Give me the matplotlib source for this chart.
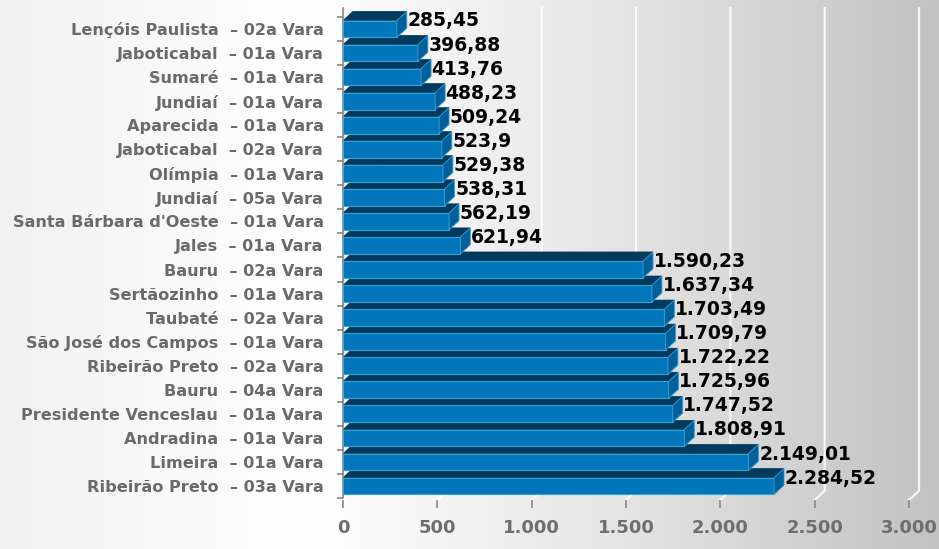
import matplotlib
matplotlib.use("Agg")
import matplotlib.pyplot as plt
from matplotlib.patches import Polygon
import numpy as np

# dados (de baixo para cima no gráfico)
cidades = ["Ribeirão Preto", "Limeira", "Andradina", "Presidente Venceslau", "Bauru",
           "Ribeirão Preto", "São José dos Campos", "Taubaté", "Sertãozinho", "Bauru",
           "Jales", "Santa Bárbara d'Oeste", "Jundiaí", "Olímpia", "Jaboticabal",
           "Aparecida", "Jundiaí", "Sumaré", "Jaboticabal", "Lençóis Paulista"]
varas = ["03a", "01a", "01a", "01a", "04a", "02a", "01a", "02a", "01a", "02a",
         "01a", "01a", "05a", "01a", "02a", "01a", "01a", "01a", "01a", "02a"]
valores = [2284.52, 2149.01, 1808.91, 1747.52, 1725.96, 1722.22, 1709.79, 1703.49,
           1637.34, 1590.23, 621.94, 562.19, 538.31, 529.38, 523.9, 509.24, 488.23,
           413.76, 396.88, 285.45]
xticks = [0, 500, 1000, 1500, 2000, 2500, 3000]

labels = [c + "  – " + v + " Vara" for c, v in zip(cidades, varas)]


def fmt_br(v):
    s = f"{v:,.2f}".rstrip("0").rstrip(".")
    return s.replace(",", "X").replace(".", ",").replace("X", ".")


def fmt_tick(v):
    return f"{v:,.0f}".replace(",", ".")


fig = plt.figure(figsize=(9.39, 5.49), dpi=100)

# fundo em degradê
bg = fig.add_axes([0, 0, 1, 1], zorder=-1)
grad = np.linspace(0, 1, 256).reshape(1, -1)
bg.imshow(grad, aspect="auto", cmap=matplotlib.colors.LinearSegmentedColormap.from_list(
    "bg", ["#f2f2f2", "#ffffff", "#e4e4e4", "#c2c2c2"]), extent=[0, 1, 0, 1])
bg.axis("off")

W, H = 939, 549
ax = fig.add_axes([343 / W, 1 - 500 / H, (920 - 343) / W, (500 - 8) / H])
ax.set_facecolor("none")

xmax = 3000 * 577 / 566
ymin, ymax = -0.58, 19.87
ax.set_xlim(0, xmax)
ax.set_ylim(ymin, ymax)

dx = 10 * 3000 / 566     # profundidade 3D em x
dy = 0.38                # profundidade 3D em y
h = 0.70                 # altura da face frontal

# linhas de grade na parede de fundo
for t in xticks:
    ax.plot([t + dx, t + dx, t], [ymax, ymin + dy, ymin], color="white", lw=1.6,
            alpha=0.85, zorder=1, clip_on=False)

front_c = "#0077bb"
top_c = "#003a5c"
side_c = "#00609a"
edge_c = "#3b9fd8"

for i, v in enumerate(valores):
    y0, y1 = i - h / 2, i + h / 2
    front = Polygon([(0, y0), (v, y0), (v, y1), (0, y1)], closed=True,
                    facecolor=front_c, edgecolor=edge_c, lw=0.8, zorder=3)
    top = Polygon([(0, y1), (v, y1), (v + dx, y1 + dy), (dx, y1 + dy)], closed=True,
                  facecolor=top_c, edgecolor=top_c, lw=0.5, zorder=2)
    side = Polygon([(v, y0), (v + dx, y0 + dy), (v + dx, y1 + dy), (v, y1)], closed=True,
                   facecolor=side_c, edgecolor=edge_c, lw=0.6, zorder=3)
    ax.add_patch(top)
    ax.add_patch(front)
    ax.add_patch(side)
    ax.text(v + dx + 3, y1 - 0.02, fmt_br(v), fontsize=13.5, fontweight="bold",
            color="black", va="center", ha="left", zorder=4)

ax.set_yticks(range(len(labels)))
ax.set_yticklabels(labels, fontsize=11.6, fontweight="bold", color="#6a6a6a")
ax.set_yticks(np.arange(-0.5, len(labels), 1), minor=True)
ax.tick_params(axis="y", which="major", length=0, pad=14)
ax.tick_params(axis="y", which="minor", length=4, color="#888888", width=1.2)

ax.set_xticks(xticks)
ax.set_xticklabels([fmt_tick(t) for t in xticks], fontsize=13, fontweight="bold",
                   color="#6e6e6e")
ax.tick_params(axis="x", length=6, color="#888888", width=1.2, pad=8)

for s in ["top", "right", "bottom"]:
    ax.spines[s].set_visible(False)
ax.spines["left"].set_color("#888888")
ax.spines["left"].set_linewidth(1.2)
ax.spines["left"].set_bounds(-0.5, ymax)

fig.savefig("out.png", dpi=100)
